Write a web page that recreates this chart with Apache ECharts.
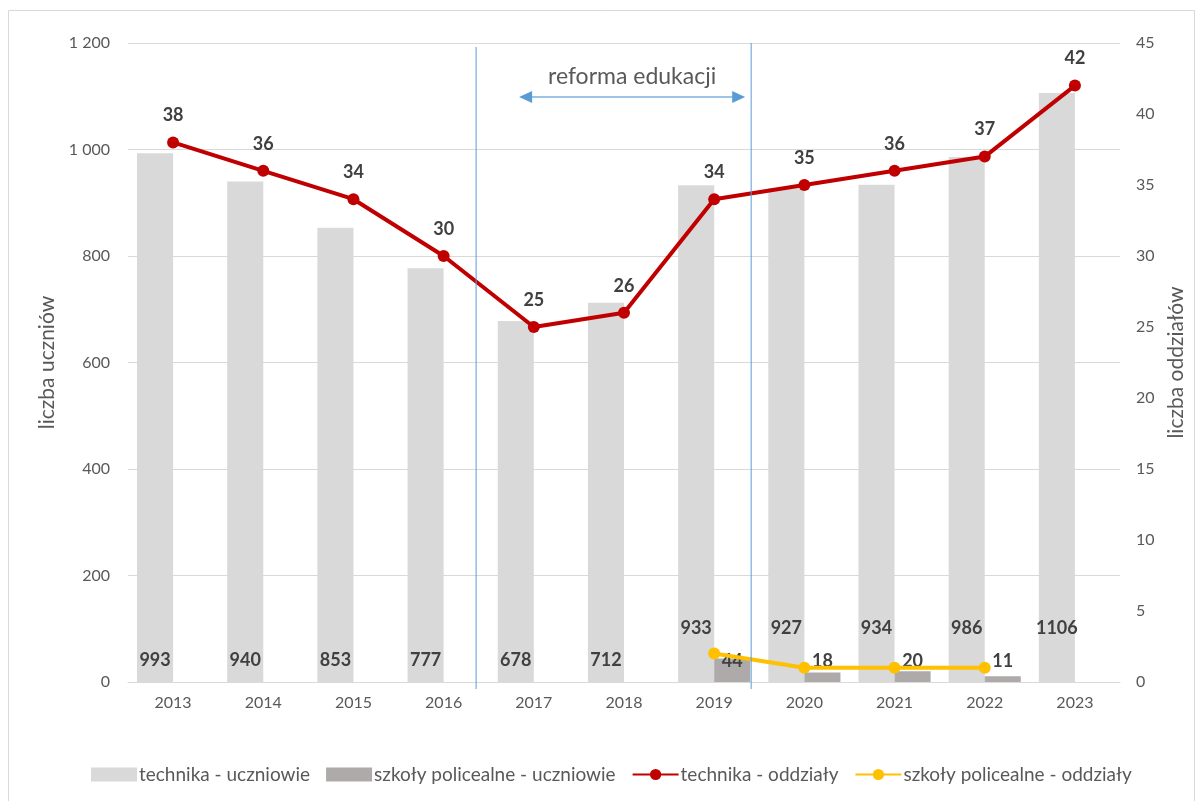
<!DOCTYPE html>
<html><head><meta charset="utf-8">
<script src="https://cdn.jsdelivr.net/npm/echarts@6/dist/echarts.min.js"></script>
<style>html,body{margin:0;padding:0;background:#fff}#c{width:1203px;height:801px}</style>
</head><body><div id="c"></div>
<script>
const years = ['2013','2014','2015','2016','2017','2018','2019','2020','2021','2022','2023'];
const technikaUczniowie = [993,940,853,777,678,712,933,927,934,986,1106];
const policealneUczniowie = [null,null,null,null,null,null,44,18,20,11,null];
const technikaOddzialy = [38,36,34,30,25,26,34,35,36,37,42];
const policealneOddzialy = [null,null,null,null,null,null,2,1,1,1,null];
const leftTicks = {min:0,max:1200,interval:200};
const rightTicks = {min:0,max:45,interval:5};
const annotationText = 'reforma edukacji';

const FONT = 'Lato';
const chart = echarts.init(document.getElementById('c'), null, {renderer:'canvas'});
const valLabel = {show:true, color:'#404040', fontWeight:'bold', fontSize:18, fontFamily:FONT};

const techBarData = technikaUczniowie.map((v,i)=>({value:v, label:{distance: i>=6 ? 45 : 13}}));

chart.setOption({
  animation:false,
  textStyle:{fontFamily:FONT},
  grid:{left:128, right:83, top:43, bottom:119},
  legend:{
    bottom:12, left:86, itemGap:16, itemWidth:46, itemHeight:14,
    textStyle:{color:'#595959', fontSize:19, fontFamily:FONT, padding:[0,0,0,-3]},
    data:[
      {name:'technika - uczniowie', icon:'rect'},
      {name:'szkoły policealne - uczniowie', icon:'rect'},
      {name:'technika - oddziały'},
      {name:'szkoły policealne - oddziały'}
    ]
  },
  xAxis:{type:'category', data:years,
    axisLine:{lineStyle:{color:'#D9D9D9'}}, axisTick:{show:false},
    axisLabel:{color:'#595959', fontSize:16, margin:13}},
  yAxis:[
    {type:'value', ...leftTicks, name:'liczba uczniów', nameLocation:'middle', nameGap:68,
     nameTextStyle:{color:'#595959', fontSize:21},
     axisLabel:{color:'#595959', fontSize:16, margin:18, formatter:v=>String(v).replace(/\B(?=(\d{3})+(?!\d))/g,' ')},
     splitLine:{lineStyle:{color:'#D9D9D9'}}, axisLine:{show:false}, axisTick:{show:false}},
    {type:'value', ...rightTicks, name:'liczba oddziałów', nameLocation:'middle', nameGap:41,
     nameTextStyle:{color:'#595959', fontSize:21},
     axisLabel:{color:'#595959', fontSize:16, margin:16},
     splitLine:{show:false}, axisLine:{show:false}, axisTick:{show:false}}
  ],
  series:[
    {name:'technika - uczniowie', type:'bar', data:techBarData, barGap:'0%', barCategoryGap:'20%',
     itemStyle:{color:'#D9D9D9'}, label:{...valLabel, position:'insideBottom'}},
    {name:'szkoły policealne - uczniowie', type:'bar', data:policealneUczniowie,
     itemStyle:{color:'#AEAAAA'}, label:{...valLabel, position:'insideBottom', distance:12}},
    {name:'technika - oddziały', type:'line', yAxisIndex:1, data:technikaOddzialy,
     symbol:'circle', symbolSize:12, lineStyle:{color:'#C00000', width:4},
     itemStyle:{color:'#C00000'}, label:{...valLabel, position:'top', distance:12}, z:5},
    {name:'szkoły policealne - oddziały', type:'line', yAxisIndex:1, data:policealneOddzialy,
     symbol:'circle', symbolSize:12, lineStyle:{color:'#FFC000', width:4},
     itemStyle:{color:'#FFC000'}, z:4}
  ]
});

// annotation positions derived from axis
const cx = i => chart.convertToPixel({xAxisIndex:0}, i);
const step = cx(1) - cx(0);
const x1 = cx(3) + step*0.36;
const x2 = cx(6) + step*0.41;
const yTop = chart.convertToPixel({yAxisIndex:0}, 1200);
const yBot = chart.convertToPixel({yAxisIndex:0}, 0);
const ax1 = x1 + 43, ax2 = x2 - 6, ay = yTop + 54;
const blue = '#5B9BD5';
chart.setOption({
  graphic:[
    {type:'rect', shape:{x:8.5, y:10.5, width:1186, height:800}, style:{fill:null, stroke:'#D9D9D9', lineWidth:1}, silent:true},
    {type:'line', shape:{x1:x1, y1:yTop+4, x2:x1, y2:yBot+7}, style:{stroke:blue, lineWidth:1}, z:10},
    {type:'line', shape:{x1:x2, y1:yTop, x2:x2, y2:yBot+7}, style:{stroke:blue, lineWidth:1}, z:10},
    {type:'line', shape:{x1:ax1+10, y1:ay, x2:ax2-10, y2:ay}, style:{stroke:'#9DC3E6', lineWidth:2}, z:10},
    {type:'polygon', shape:{points:[[ax1,ay],[ax1+13,ay-6],[ax1+13,ay+6]]}, style:{fill:blue}, z:10},
    {type:'polygon', shape:{points:[[ax2,ay],[ax2-13,ay-6],[ax2-13,ay+6]]}, style:{fill:blue}, z:10},
    {type:'text', x:(ax1+ax2)/2, y:ay-20, style:{text:annotationText, fill:'#595959', font:'23px '+FONT, align:'center', verticalAlign:'middle'}, z:10}
  ]
});
</script></body></html>
